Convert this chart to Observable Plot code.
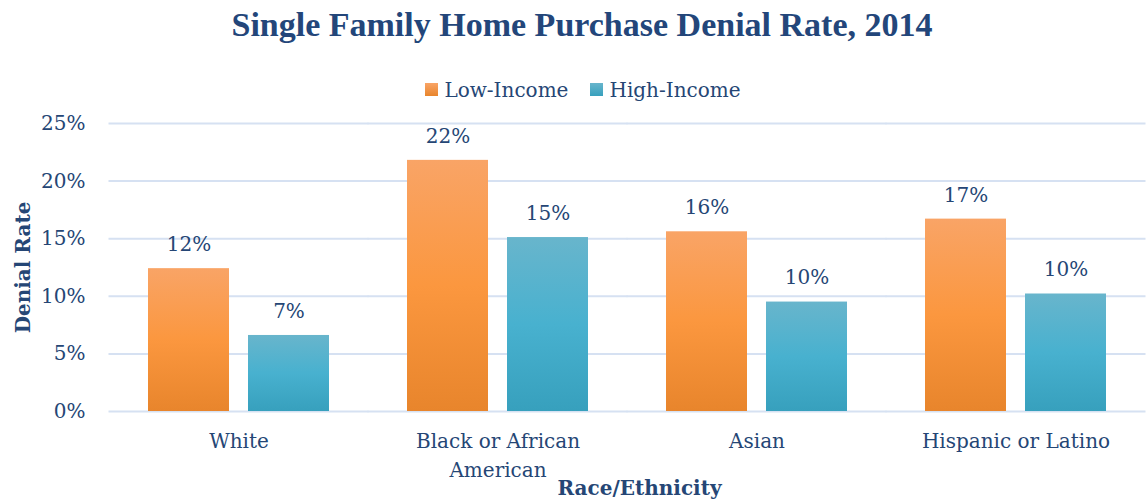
<!DOCTYPE html>
<html>
<head>
<meta charset="utf-8">
<script src="https://cdn.jsdelivr.net/npm/d3@7"></script>
<script src="https://cdn.jsdelivr.net/npm/@observablehq/plot@0.6"></script>
<style>
  html, body { margin: 0; padding: 0; background: #fff; }
  body { width: 1146px; height: 500px; overflow: hidden; font-family: "DejaVu Serif", serif; color: #254675; }
  #title { height: 60px; line-height: 50px; text-align: center; font-family: "Liberation Serif", serif; font-size: 34px; font-weight: bold; color: #23467a; padding-left: 18px; box-sizing: border-box; }
  #legend { height: 45px; display: flex; justify-content: center; align-items: center; gap: 22px; font-size: 20px; padding-left: 20px; box-sizing: border-box; padding-top: 14px; }
  #legend .item { display: flex; align-items: center; gap: 6px; }
  #legend .sw { width: 13px; height: 13px; display: inline-block; }
  #chart svg g[aria-label="y-axis label"] text { font-weight: bold; }
</style>
</head>
<body>
<svg width="0" height="0" style="position:absolute">
  <defs>
    <linearGradient id="gLow" x1="0" y1="0" x2="0" y2="1">
      <stop offset="0" stop-color="#f9a466"/>
      <stop offset="0.5" stop-color="#fb973f"/>
      <stop offset="1" stop-color="#e8852c"/>
    </linearGradient>
    <linearGradient id="gHigh" x1="0" y1="0" x2="0" y2="1">
      <stop offset="0" stop-color="#68b5cc"/>
      <stop offset="0.5" stop-color="#48b1cf"/>
      <stop offset="1" stop-color="#37a0bd"/>
    </linearGradient>
  </defs>
</svg>
<div id="title">Single Family Home Purchase Denial Rate, 2014</div>
<div id="legend"></div>
<div id="chart"></div>
<script>
const categories = ["White", "Black or African American", "Asian", "Hispanic or Latino"];
const seriesNames = ["Low-Income", "High-Income"];
const lowIncome = [12.4, 21.8, 15.6, 16.7];
const highIncome = [6.6, 15.1, 9.5, 10.2];
const yTicks = [0, 5, 10, 15, 20, 25];
const categoryLabels = ["White", "Black or African\nAmerican", "Asian", "Hispanic or Latino"];
const xAxisTitle = "Race/Ethnicity";
const yAxisTitle = "Denial Rate";

const FONT = '"DejaVu Serif", serif';
const TEXT = "#254675";
const fills = {"Low-Income": "url(#gLow)", "High-Income": "url(#gHigh)"};
const swatch = {"Low-Income": "linear-gradient(#f9a466,#e8852c)", "High-Income": "linear-gradient(#68b5cc,#37a0bd)"};

const data = [];
categories.forEach((c, i) => {
  data.push({category: c, series: seriesNames[0], value: lowIncome[i]});
  data.push({category: c, series: seriesNames[1], value: highIncome[i]});
});

const legend = document.getElementById("legend");
seriesNames.forEach(s => {
  const it = document.createElement("div");
  it.className = "item";
  it.innerHTML = `<span class="sw" style="background:${swatch[s]}"></span><span>${s}</span>`;
  legend.appendChild(it);
});

const chart = Plot.plot({
  width: 1146,
  height: 395,
  marginLeft: 108,
  marginRight: 0,
  marginTop: 18,
  marginBottom: 89,
  style: {fontFamily: FONT, fontSize: "20px", color: TEXT, background: "transparent", overflow: "visible"},
  fx: {domain: categories, paddingInner: 0.3, paddingOuter: 0.15},
  x: {domain: seriesNames, paddingInner: 0.19, paddingOuter: 0, axis: null},
  y: {domain: [0, 25]},
  marks: [
    Plot.ruleY(yTicks, {y: d => d, stroke: "#d6e1f2", strokeWidth: 2, insetLeft: -39.5, insetRight: -39.5}),
    ...seriesNames.map(s => Plot.barY(data.filter(d => d.series === s), {
      fx: "category", x: "series", y: "value", fill: fills[s]
    })),
    Plot.text(data, {
      fx: "category", x: "series", y: "value",
      text: d => Math.round(d.value) + "%",
      dy: -24, fill: TEXT, fontSize: 20
    }),
    Plot.axisY(yTicks, {
      tickSize: 0, tickPadding: 63, tickFormat: d => d + "%", fontSize: 20,
      label: yAxisTitle, labelAnchor: "center", labelOffset: 133, labelArrow: "none"
    }),
    Plot.axisFx({
      anchor: "bottom",
      tickSize: 0, tickPadding: 16, lineHeight: 1.45, fontSize: 20,
      tickFormat: d => categoryLabels[categories.indexOf(d)],
      label: null
    }),
    Plot.text([xAxisTitle], {
      facet: "super", frameAnchor: "bottom", dy: 77, dx: 12,
      lineAnchor: "middle", fontWeight: "bold", fontSize: 20, fill: TEXT
    })
  ]
});
document.getElementById("chart").appendChild(chart);
</script>
</body>
</html>
